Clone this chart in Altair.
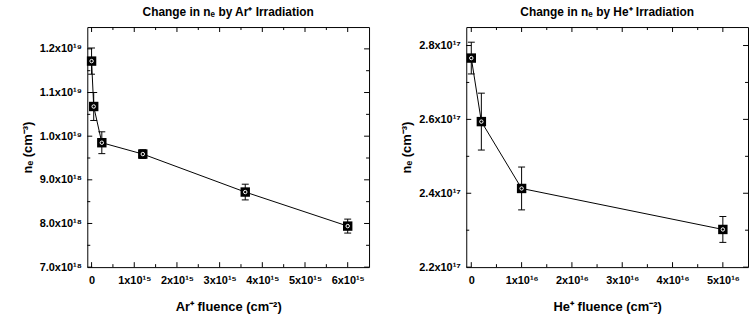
import json
import altair as alt
import pandas as pd

# ---------------- data ----------------
ar_fluence = [0.0, 5e13, 2.4e14, 1.2e15, 3.6e15, 6.0e15]
ar_ne = [1.172e19, 1.068e19, 9.85e18, 9.59e18, 8.72e18, 7.94e18]
ar_err = [3.0e17, 3.2e17, 2.5e17, 1.0e17, 1.8e17, 1.6e17]

he_fluence = [0.0, 2e15, 1e16, 5e16]
he_ne = [2.766e17, 2.594e17, 2.413e17, 2.302e17]
he_err = [4.3e15, 7.7e15, 5.8e15, 3.5e15]

ar_x_ticks = [0.0, 1e15, 2e15, 3e15, 4e15, 5e15, 6e15]
ar_x_labels = ["0", "1x10¹⁵", "2x10¹⁵", "3x10¹⁵", "4x10¹⁵", "5x10¹⁵", "6x10¹⁵"]
ar_x_minor = [5e14, 1.5e15, 2.5e15, 3.5e15, 4.5e15, 5.5e15]
ar_y_ticks = [7e18, 8e18, 9e18, 1e19, 1.1e19, 1.2e19]
ar_y_labels = ["7.0x10¹⁸", "8.0x10¹⁸", "9.0x10¹⁸", "1.0x10¹⁹", "1.1x10¹⁹", "1.2x10¹⁹"]
ar_y_minor = [7.5e18, 8.5e18, 9.5e18, 1.05e19, 1.15e19]

he_x_ticks = [0.0, 1e16, 2e16, 3e16, 4e16, 5e16]
he_x_labels = ["0", "1x10¹⁶", "2x10¹⁶", "3x10¹⁶", "4x10¹⁶", "5x10¹⁶"]
he_x_minor = [5e15, 1.5e16, 2.5e16, 3.5e16, 4.5e16]
he_y_ticks = [2.2e17, 2.4e17, 2.6e17, 2.8e17]
he_y_labels = ["2.2x10¹⁷", "2.4x10¹⁷", "2.6x10¹⁷", "2.8x10¹⁷"]
he_y_minor = [2.3e17, 2.5e17, 2.7e17]

ar_x_domain = [-1e14, 6.5e15]
ar_y_domain = [7e18, 1.25e19]
he_x_domain = [-1e15, 5.5e16]
he_y_domain = [2.2e17, 2.85e17]

W, H = 284, 242
FONT = "Liberation Sans"
MAJOR, MINOR = 5, 3


def label_expr(ticks, labels):
    return "%s[indexof(%s, datum.value)]" % (
        json.dumps(labels, ensure_ascii=False), json.dumps(ticks))


def tick_layers(values, channel, length, xs, ys):
    """inward tick marks on both sides of the frame, positioned by the scale"""
    d = pd.DataFrame({"v": values})
    out = []
    if channel == "x":
        for a, b in ((H, H - length), (0, length)):
            out.append(alt.Chart(d).mark_rule(color="black", strokeWidth=1).encode(
                x=alt.X("v:Q", scale=xs),
                y=alt.value(a), y2=alt.value(b)))
    else:
        for a, b in ((0, length), (W - length, W)):
            out.append(alt.Chart(d).mark_rule(color="black", strokeWidth=1).encode(
                y=alt.Y("v:Q", scale=ys),
                x=alt.value(a), x2=alt.value(b)))
    return out


def panel(fl, ne, err, xt, xl, xm, yt, yl, ym, xd, yd, title, xtitle):
    df = pd.DataFrame({"fluence": fl, "ne": ne})
    df["lo"] = df["ne"] - pd.Series(err)
    df["hi"] = df["ne"] + pd.Series(err)
    xs = alt.Scale(domain=xd, nice=False, zero=False)
    ys = alt.Scale(domain=yd, nice=False, zero=False)
    main_x = alt.Axis(values=xt, labelExpr=label_expr(xt, xl), ticks=False, domain=False,
                      grid=False, labelPadding=8, titlePadding=15, title=xtitle,
                      labelFlush=False, labelOverlap=False)
    main_y = alt.Axis(values=yt, labelExpr=label_expr(yt, yl), ticks=False, domain=False,
                      grid=False, labelPadding=6, titlePadding=5, title="nₑ (cm⁻³)",
                      labelFlush=False, labelOverlap=False)
    base = alt.Chart(df)
    line = base.mark_line(color="black", strokeWidth=1).encode(
        x=alt.X("fluence:Q", scale=xs, axis=main_x),
        y=alt.Y("ne:Q", scale=ys, axis=main_y))
    bars = base.mark_rule(color="black", strokeWidth=1).encode(
        x=alt.X("fluence:Q", scale=xs),
        y=alt.Y("lo:Q", scale=ys),
        y2="hi:Q")
    cap_hi = base.mark_tick(orient="horizontal", size=7, thickness=1, color="black",
                            opacity=1).encode(
        x=alt.X("fluence:Q", scale=xs),
        y=alt.Y("hi:Q", scale=ys))
    cap_lo = base.mark_tick(orient="horizontal", size=7, thickness=1, color="black",
                            opacity=1).encode(
        x=alt.X("fluence:Q", scale=xs),
        y=alt.Y("lo:Q", scale=ys))
    sq = base.mark_square(size=90, color="black", opacity=1).encode(
        x=alt.X("fluence:Q", scale=xs),
        y=alt.Y("ne:Q", scale=ys))
    dot = base.mark_point(shape="circle", size=12, color="white", filled=False,
                          strokeWidth=1, opacity=1).encode(
        x=alt.X("fluence:Q", scale=xs),
        y=alt.Y("ne:Q", scale=ys))
    ticks = (tick_layers(xt, "x", MAJOR, xs, ys) + tick_layers(xm, "x", MINOR, xs, ys)
             + tick_layers(yt, "y", MAJOR, xs, ys) + tick_layers(ym, "y", MINOR, xs, ys))
    return alt.layer(line, bars, *ticks, cap_hi, cap_lo, sq, dot).properties(
        width=W, height=H, title=alt.TitleParams(text=title, offset=8))


left = panel(ar_fluence, ar_ne, ar_err, ar_x_ticks, ar_x_labels, ar_x_minor,
             ar_y_ticks, ar_y_labels, ar_y_minor, ar_x_domain, ar_y_domain,
             "Change in nₑ by Ar⁺ Irradiation", "Ar⁺ fluence (cm⁻²)")
right = panel(he_fluence, he_ne, he_err, he_x_ticks, he_x_labels, he_x_minor,
              he_y_ticks, he_y_labels, he_y_minor, he_x_domain, he_y_domain,
              "Change in nₑ by He⁺ Irradiation", "He⁺ fluence (cm⁻²)")

chart = alt.hconcat(left, right, spacing=30).properties(
    padding={"left": 20, "top": 4, "right": 0, "bottom": 0},
    background="white",
).configure_view(stroke="black", strokeWidth=1).configure_axis(
    labelFont=FONT, labelFontWeight="bold", labelFontSize=11, labelColor="black",
    titleFont=FONT, titleFontWeight="bold", titleFontSize=13, titleColor="black",
).configure_title(
    font=FONT, fontSize=12, fontWeight="bold", color="black", anchor="middle")

chart.save("out.html", embed_options={"renderer": "svg", "actions": False})
